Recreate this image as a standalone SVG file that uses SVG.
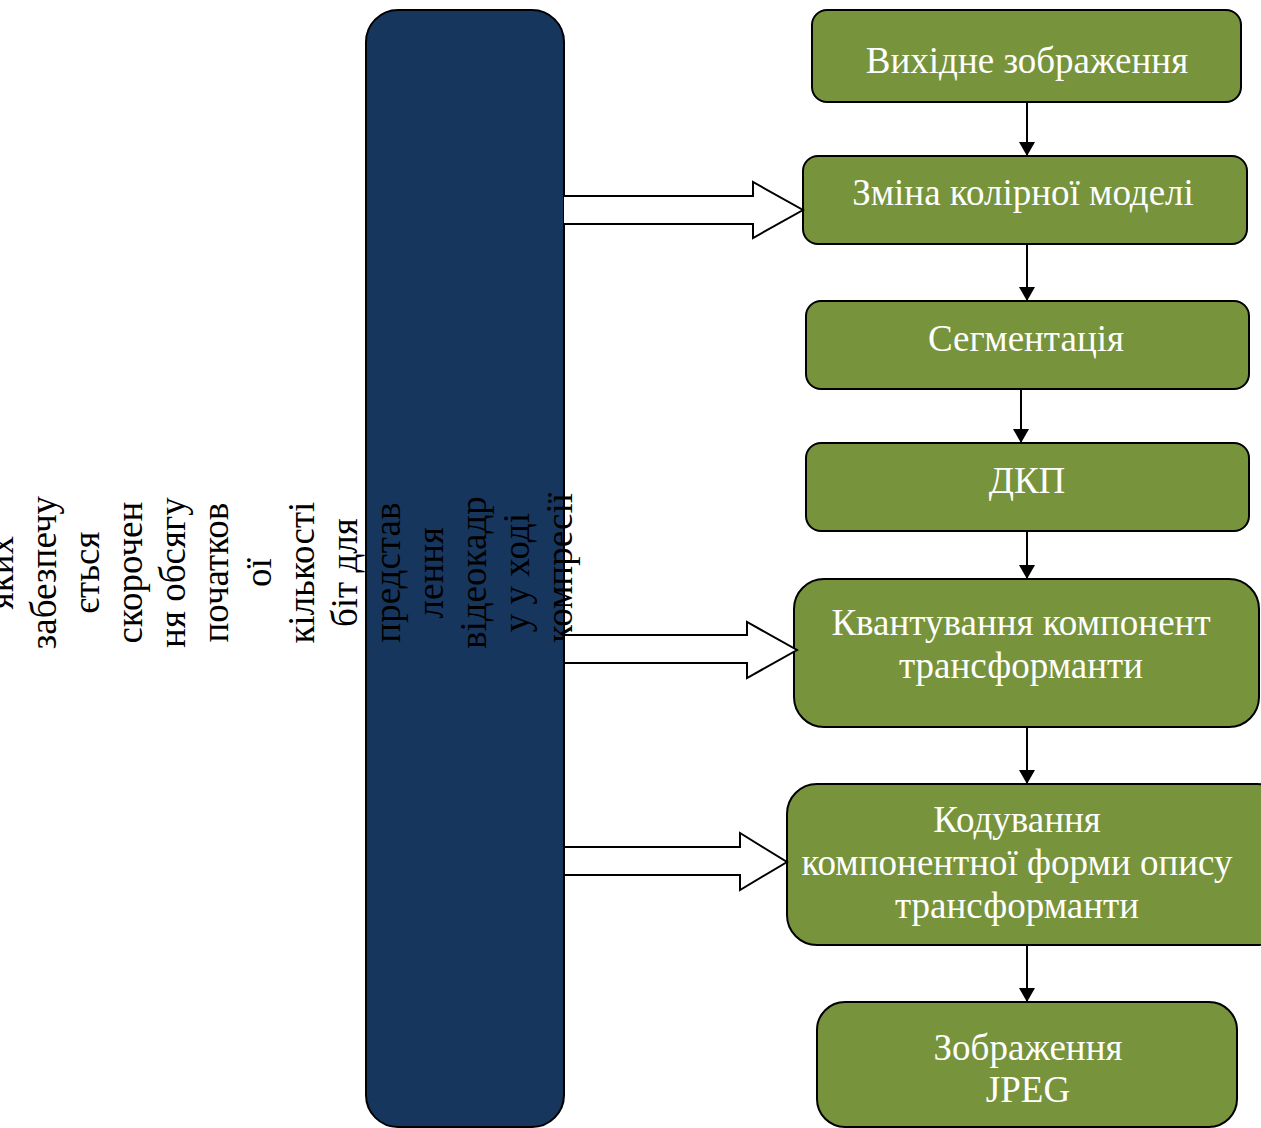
<svg xmlns="http://www.w3.org/2000/svg" width="1261" height="1128" viewBox="0 0 1261 1128">
<defs>
<style>
.g{fill:#77933c;stroke:#000;stroke-width:2}
.t{font-family:"Liberation Serif","Times New Roman",serif;font-size:37px;fill:#fff;text-anchor:middle}
.lt{font-family:"Liberation Serif","Times New Roman",serif;font-size:37px;fill:#000;text-anchor:middle}
.c{stroke:#000;stroke-width:2;fill:none}
.ba{fill:#fff;stroke:#000;stroke-width:2;stroke-linejoin:miter}
</style>
<marker id="ah" markerWidth="14" markerHeight="16" refX="14" refY="8" orient="auto" markerUnits="userSpaceOnUse">
<path d="M0,0 L14,8 L0,16 Z" fill="#000"/>
</marker>
</defs>
<rect width="1261" height="1128" fill="#fff"/>
<g id="main-block">
<rect x="366" y="10" width="198" height="1117" rx="32" ry="32" fill="#17365d" stroke="#000" stroke-width="2"/>
</g>
<g id="left-text">
<text class="lt" transform="rotate(-90)">
<tspan x="-568" y="13">яких</tspan>
<tspan x="-568" y="56">забезпечу</tspan>
<tspan x="-568" y="99">ється</tspan>
<tspan x="-568" y="142">скорочен</tspan>
<tspan x="-568" y="185">ня обсягу</tspan>
<tspan x="-568" y="228">початков</tspan>
<tspan x="-568" y="271">ої</tspan>
<tspan x="-568" y="314">кількості</tspan>
<tspan x="-568" y="357">біт для</tspan>
<tspan x="-568" y="400">представ</tspan>
<tspan x="-568" y="443">лення</tspan>
<tspan x="-568" y="486">відеокадр</tspan>
<tspan x="-568" y="529">у у ході</tspan>
<tspan x="-568" y="572">компресії</tspan>
</text>
</g>
<g id="n1"><rect class="g" x="812" y="10" width="429" height="92" rx="15"/><text class="t" x="1027" y="73">Вихідне зображення</text></g>
<g id="n2"><rect class="g" x="803" y="156" width="444" height="88" rx="15"/><text class="t" x="1023" y="205">Зміна колірної моделі</text></g>
<g id="n3"><rect class="g" x="806" y="301" width="443" height="88" rx="15"/><text class="t" x="1026" y="351">Сегментація</text></g>
<g id="n4"><rect class="g" x="806" y="443" width="443" height="88" rx="15"/><text class="t" x="1027" y="493">ДКП</text></g>
<g id="n5"><rect class="g" x="794" y="579" width="465" height="148" rx="30"/><text class="t"><tspan x="1021" y="635">Квантування компонент</tspan><tspan x="1021" y="678">трансформанти</tspan></text></g>
<g id="n6"><rect class="g" x="787" y="784" width="500" height="161" rx="30"/><text class="t"><tspan x="1017" y="832">Кодування</tspan><tspan x="1017" y="875">компонентної форми опису</tspan><tspan x="1017" y="918">трансформанти</tspan></text></g>
<g id="n7"><rect class="g" x="817" y="1002" width="420" height="125" rx="28"/><text class="t"><tspan x="1028" y="1060">Зображення</tspan><tspan x="1028" y="1102">JPEG</tspan></text></g>
<g id="connectors">
<line class="c" x1="1027" y1="102" x2="1027" y2="156" marker-end="url(#ah)"/>
<line class="c" x1="1027" y1="244" x2="1027" y2="301" marker-end="url(#ah)"/>
<line class="c" x1="1021" y1="389" x2="1021" y2="443" marker-end="url(#ah)"/>
<line class="c" x1="1027" y1="531" x2="1027" y2="579" marker-end="url(#ah)"/>
<line class="c" x1="1027" y1="727" x2="1027" y2="784" marker-end="url(#ah)"/>
<line class="c" x1="1027" y1="945" x2="1027" y2="1002" marker-end="url(#ah)"/>
<path class="ba" d="M564,196 L753,196 L753,182 L803,210 L753,238 L753,224 L564,224"/>
<path class="ba" d="M565,635 L747,635 L747,622 L797,650 L747,678 L747,663 L565,663"/>
<path class="ba" d="M565,847 L740,847 L740,833 L787,862 L740,890 L740,875 L565,875"/>
</g>
</svg>
